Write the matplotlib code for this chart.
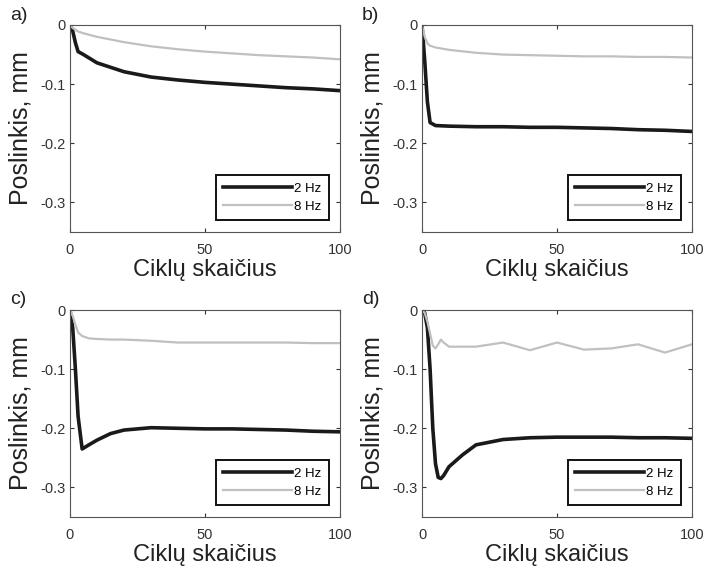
import numpy as np
import matplotlib.pyplot as plt

plt.rcParams['font.family'] = ['Liberation Sans', 'DejaVu Sans']

# cikly skaicius (x) ir poslinkis (y), mm
xa = [0, 1, 2, 3, 5, 10, 20, 30, 40, 50, 60, 70, 80, 90, 100]
a_2hz = [0, -0.01, -0.03, -0.045, -0.05, -0.064, -0.079, -0.088, -0.093, -0.097, -0.100, -0.103, -0.106, -0.108, -0.111]
a_8hz = [0, -0.005, -0.008, -0.011, -0.014, -0.020, -0.029, -0.036, -0.041, -0.045, -0.048, -0.051, -0.053, -0.055, -0.058]

xb = [0, 1, 2, 3, 5, 10, 20, 30, 40, 50, 60, 70, 80, 90, 100]
b_2hz = [0, -0.06, -0.13, -0.165, -0.170, -0.171, -0.172, -0.172, -0.173, -0.173, -0.174, -0.175, -0.177, -0.178, -0.180]
b_8hz = [0, -0.02, -0.031, -0.035, -0.038, -0.042, -0.047, -0.050, -0.051, -0.052, -0.053, -0.053, -0.054, -0.054, -0.055]

xc = [0, 1, 2, 3, 4.5, 7, 10, 15, 20, 30, 40, 50, 60, 70, 80, 90, 100]
c_2hz = [0, -0.03, -0.1, -0.18, -0.235, -0.228, -0.220, -0.209, -0.203, -0.199, -0.200, -0.201, -0.201, -0.202, -0.203, -0.205, -0.206]
c_8hz = [0, -0.01, -0.025, -0.038, -0.044, -0.048, -0.049, -0.050, -0.050, -0.052, -0.055, -0.055, -0.055, -0.055, -0.055, -0.056, -0.056]

xd = [0, 1, 2, 3, 4, 5, 6, 7, 8, 10, 15, 20, 30, 40, 50, 60, 70, 80, 90, 100]
d_2hz = [0, -0.005, -0.03, -0.1, -0.2, -0.26, -0.283, -0.285, -0.28, -0.265, -0.245, -0.228, -0.219, -0.216, -0.215, -0.215, -0.215, -0.216, -0.216, -0.217]
d_8hz = [0, -0.005, -0.02, -0.04, -0.06, -0.065, -0.058, -0.05, -0.055, -0.062, -0.062, -0.062, -0.055, -0.068, -0.055, -0.067, -0.065, -0.058, -0.072, -0.058]

panels = [('a)', xa, a_2hz, a_8hz), ('b)', xb, b_2hz, b_8hz),
          ('c)', xc, c_2hz, c_8hz), ('d)', xd, d_2hz, d_8hz)]

fig = plt.figure(figsize=(7.04, 5.71), dpi=100)
boxes = [(70, 25), (422, 25), (70, 310), (422, 310)]
W, H = 704, 571
for (lab, x, y2, y8), (l, t) in zip(panels, boxes):
    ax = fig.add_axes([l / W, 1 - (t + 207) / H, 270 / W, 207 / H])
    ax.plot(x, y2, color='#1a1a1a', lw=2.6, label='2 Hz')
    ax.plot(x, y8, color='#c0c0c0', lw=1.6, label='8 Hz')
    ax.set_xlim(0, 100)
    ax.set_ylim(-0.35, 0)
    ax.set_xticks([0, 50, 100])
    ax.set_yticks([0, -0.1, -0.2, -0.3])
    ax.set_yticklabels(['0', '-0.1', '-0.2', '-0.3'])
    ax.tick_params(direction='in', top=True, right=True, labelsize=10.5,
                   length=3, color='#333333', labelcolor='#333333')
    ax.tick_params(axis='x', pad=8)
    for s in ax.spines.values():
        s.set_color('#555555')
    ax.set_xlabel('Ciklų skaičius', fontsize=17, color='#222222', labelpad=1)
    ax.set_ylabel('Poslinkis, mm', fontsize=18, color='#222222', labelpad=5)
    leg = ax.legend(loc='lower right', bbox_to_anchor=(1 - 11 / 270, 12 / 207),
                    borderaxespad=0, fontsize=9.5, handlelength=5.2,
                    fancybox=False, framealpha=1, edgecolor='#111111',
                    borderpad=0.55, labelspacing=0.45, handletextpad=0.2)
    leg.get_frame().set_linewidth(1.4)
    fig.text((l - 60) / W, 1 - (t - 10) / H, lab, fontsize=14, color='#222222', va='center')

plt.savefig('out.png', dpi=100)
